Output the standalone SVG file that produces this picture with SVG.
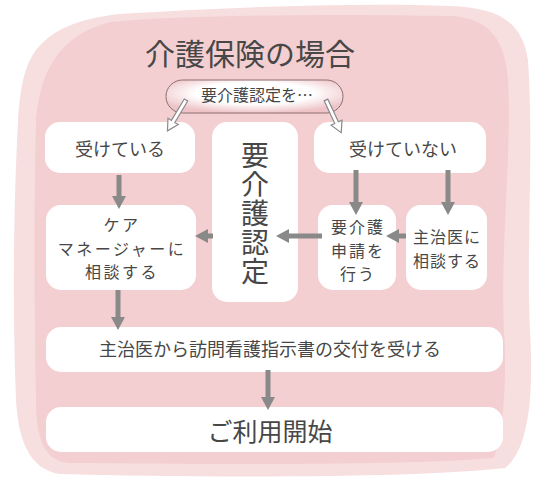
<svg xmlns="http://www.w3.org/2000/svg" width="536" height="481" viewBox="0 0 536 481">
<defs>
<style>
text{font-family:"Noto Sans CJK JP","Noto Sans",sans-serif;fill:#474747;text-anchor:middle}
.box{fill:#fff}
.arr{stroke:#898989;stroke-width:5;fill:none}
.hd{fill:#898989}
.hol{fill:#fff;stroke:#8a8a8a;stroke-width:1.2}
.ml{font-size:16px;letter-spacing:2.5px}
</style>
<radialGradient id="pill" cx="0.5" cy="0.4" r="0.6">
<stop offset="0.55" stop-color="#ffffff"/>
<stop offset="1" stop-color="#eec4c8"/>
</radialGradient>
</defs>
<rect width="536" height="481" fill="#fff"/>
<g id="background">
<path d="M30,60 C45,30 80,18 120,14 C220,8 350,2 450,6 C500,8 522,22 528,60 C534,150 526,250 530,330 C534,400 528,450 505,468 C420,478 200,478 60,474 C30,470 18,440 16,400 C12,300 14,200 18,120 C20,90 24,72 30,60 Z" fill="#f7dfe0"/>
<path d="M36,120 C40,70 60,35 110,22 C200,14 350,14 450,16 C490,18 505,40 508,80 C512,150 500,250 504,330 C508,400 500,440 494,458 C400,466 200,464 70,463 C45,462 36,440 36,400 C34,300 34,200 36,120 Z" fill="#f3cfd1"/>
</g>
<g id="title"><text x="250" y="65" font-size="30">介護保険の場合</text></g>
<g id="pill-node">
<rect x="166" y="80" width="177" height="33" rx="16.5" fill="url(#pill)" stroke="#8d6e70" stroke-width="1"/>
<text x="257" y="101" font-size="16">要介護認定を…</text>
</g>
<g id="n-ukete"><rect class="box" x="45" y="122" width="150" height="51" rx="15"/><text x="120" y="156" font-size="18">受けている</text></g>
<g id="n-nintei"><rect class="box" x="212" y="122" width="86" height="180" rx="15"/>
<text x="255" y="141" font-size="28" writing-mode="vertical-rl" letter-spacing="1" style="text-anchor:start">要介護認定</text></g>
<g id="n-ukenai"><rect class="box" x="314" y="122" width="172" height="51" rx="15"/><text x="403" y="156" font-size="18">受けていない</text></g>
<g id="n-care"><rect class="box" x="46" y="205" width="150" height="85" rx="15"/>
<text class="ml"><tspan x="122" y="231">ケア</tspan><tspan x="122" y="254.5">マネージャーに</tspan><tspan x="122" y="278">相談する</tspan></text></g>
<g id="n-shinsei"><rect class="box" x="318" y="205" width="78" height="85" rx="15"/>
<text class="ml" style="letter-spacing:2px"><tspan x="358" y="233">要介護</tspan><tspan x="358" y="256.5">申請を</tspan><tspan x="358" y="280">行う</tspan></text></g>
<g id="n-shujii"><rect class="box" x="406" y="205" width="81" height="85" rx="15"/>
<text class="ml" style="letter-spacing:1px"><tspan x="447" y="243">主治医に</tspan><tspan x="447" y="266.5">相談する</tspan></text></g>
<g id="n-shiji"><rect class="box" x="46" y="327" width="457" height="45" rx="15"/><text x="270" y="356" font-size="18">主治医から訪問看護指示書の交付を受ける</text></g>
<g id="n-start"><rect class="box" x="46" y="407" width="457" height="45" rx="15"/><text x="270" y="441" font-size="25">ご利用開始</text></g>
<g id="connectors">
<polygon class="hol" points="0,-2 25,-2 25,-6 36,0 25,6 25,2 0,2" transform="translate(186,100) rotate(121)"/>
<polygon class="hol" points="0,-2 25,-2 25,-6 36,0 25,6 25,2 0,2" transform="translate(326,100) rotate(65)"/>
<line class="arr" x1="119" y1="175" x2="119" y2="197"/>
<polygon class="hd" points="112,196 126,196 119,209"/>
<line class="arr" x1="213" y1="236" x2="207" y2="236"/>
<polygon class="hd" points="208,229 208,243 195,236"/>
<line class="arr" x1="322" y1="236" x2="288" y2="236"/>
<polygon class="hd" points="289,229 289,243 276,236"/>
<line class="arr" x1="356" y1="170" x2="356" y2="203"/>
<polygon class="hd" points="349,202 363,202 356,215"/>
<line class="arr" x1="448" y1="170" x2="448" y2="203"/>
<polygon class="hd" points="441,202 455,202 448,215"/>
<line class="arr" x1="406" y1="236" x2="398" y2="236"/>
<polygon class="hd" points="399,229 399,243 386,236"/>
<line class="arr" x1="118" y1="290" x2="118" y2="318"/>
<polygon class="hd" points="111,317 125,317 118,330"/>
<line class="arr" x1="268" y1="370" x2="268" y2="398"/>
<polygon class="hd" points="261,397 275,397 268,410"/>
</g>
</svg>
